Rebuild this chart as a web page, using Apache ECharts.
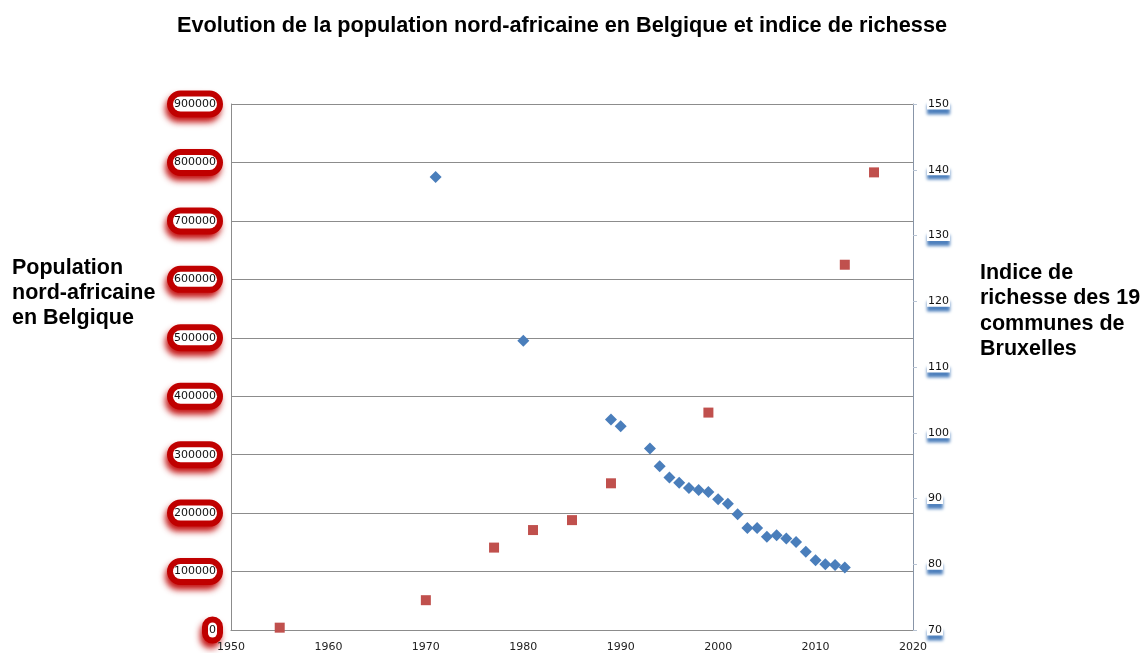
<!DOCTYPE html>
<html><head><meta charset="utf-8">
<script src="https://cdn.jsdelivr.net/npm/echarts@6/dist/echarts.min.js"></script>
<style>html,body{margin:0;padding:0;background:#fff}#c{width:1148px;height:653px}</style>
</head><body><div id="c"></div>
<script>
var populationYears = [1955, 1970, 1977, 1981, 1985, 1989, 1999, 2013, 2016];
var populationValues = [4000, 51000, 141000, 171000, 188000, 251000, 372000, 625000, 783000];
var indexYears = [1971, 1980, 1989, 1990, 1993, 1994, 1995, 1996, 1997, 1998, 1999, 2000, 2001, 2002, 2003, 2004, 2005, 2006, 2007, 2008, 2009, 2010, 2011, 2012, 2013];
var indexValues = [138.9, 114.0, 102.0, 101.0, 97.6, 94.9, 93.2, 92.4, 91.6, 91.3, 91.0, 89.9, 89.2, 87.6, 85.5, 85.5, 84.2, 84.4, 83.9, 83.4, 81.9, 80.6, 80.0, 79.9, 79.5];
var titleText = 'Evolution de la population nord-africaine en Belgique et indice de richesse';
var leftTitle = 'Population\nnord-africaine\nen Belgique';
var rightTitle = 'Indice de\nrichesse des 19\ncommunes de\nBruxelles';

function pairs(xs, ys) { return xs.map(function (x, i) { return [x, ys[i]]; }); }
function plain(v) { return String(v); }

var chart = echarts.init(document.getElementById('c'));
chart.setOption({
  animation: false,
  backgroundColor: '#fff',
  title: {
    text: titleText, left: 557, top: 10, textAlign: 'center',
    textStyle: { fontFamily: 'Liberation Sans', fontWeight: 'bold', fontSize: 21.7, color: '#000' }
  },
  graphic: [
    { type: 'text', left: 12, top: 256, style: { text: leftTitle, font: 'bold 21.5px "Liberation Sans"', fill: '#000', lineHeight: 25 } },
    { type: 'text', left: 980, top: 260, style: { text: rightTitle, font: 'bold 21.5px "Liberation Sans"', fill: '#000', lineHeight: 25.5 } }
  ],
  grid: { left: 231, right: 235, top: 104, bottom: 22, containLabel: false },
  xAxis: {
    type: 'value', min: 1950, max: 2020, interval: 10,
    axisLine: { show: true, lineStyle: { color: '#8c8c8c', width: 1 } },
    axisTick: { show: false },
    splitLine: { show: false },
    axisLabel: { fontFamily: 'DejaVu Sans', fontSize: 11, color: '#222', margin: 12, formatter: plain }
  },
  yAxis: [
    {
      type: 'value', min: 0, max: 900000, interval: 100000, position: 'left',
      axisLine: { show: true, lineStyle: { color: '#8c8c8c', width: 1 } },
      axisTick: { show: false },
      splitLine: { show: true, lineStyle: { color: '#8c8c8c', width: 1 } },
      axisLabel: {
        fontFamily: 'DejaVu Sans', fontSize: 11, color: '#111', margin: 14, formatter: plain,
        backgroundColor: '#fff', padding: [2, 1, 2, 1],
        borderColor: '#c00000', borderWidth: 6, borderRadius: 8,
        shadowColor: 'rgba(192,0,0,0.85)', shadowBlur: 6, shadowOffsetX: -2, shadowOffsetY: 5
      }
    },
    {
      type: 'value', min: 70, max: 150, interval: 10, position: 'right',
      axisLine: { show: true, lineStyle: { color: '#8895a8', width: 1 } },
      axisTick: { show: true, length: 4, lineStyle: { color: '#b8c4d4' } },
      splitLine: { show: false },
      axisLabel: {
        fontFamily: 'DejaVu Sans', fontSize: 11, color: '#111', margin: 14, formatter: plain,
        backgroundColor: '#fff', padding: [0, 1, 0, 1],
        shadowColor: 'rgba(79,129,189,1)', shadowBlur: 3, shadowOffsetX: 0, shadowOffsetY: 5
      }
    }
  ],
  series: [
    {
      name: 'Population', type: 'scatter', yAxisIndex: 0,
      symbol: 'rect', symbolSize: 10,
      itemStyle: { color: '#c0504d', opacity: 1 },
      data: pairs(populationYears, populationValues)
    },
    {
      name: 'Indice', type: 'scatter', yAxisIndex: 1,
      symbol: 'diamond', symbolSize: [12, 12],
      itemStyle: { color: '#4a7ebb', opacity: 1 },
      data: pairs(indexYears, indexValues)
    }
  ]
});
</script></body></html>
